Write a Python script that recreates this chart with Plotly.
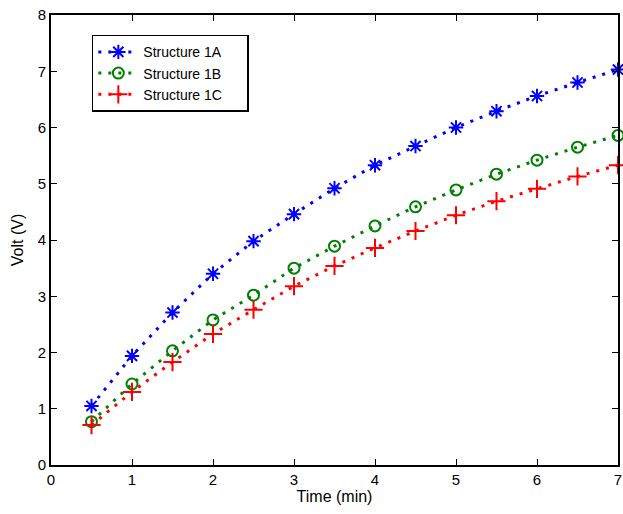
import plotly.graph_objects as go

time_min = [0.5, 1.0, 1.5, 2.0, 2.5, 3.0, 3.5, 4.0, 4.5, 5.0, 5.5, 6.0, 6.5, 7.0]
structure_1a = [1.05, 1.94, 2.71, 3.40, 3.98, 4.46, 4.92, 5.33, 5.67, 6.00, 6.29, 6.56, 6.80, 7.03]
structure_1b = [0.77, 1.44, 2.03, 2.58, 3.02, 3.50, 3.89, 4.25, 4.59, 4.89, 5.17, 5.42, 5.65, 5.86]
structure_1c = [0.71, 1.30, 1.83, 2.33, 2.76, 3.18, 3.54, 3.86, 4.16, 4.44, 4.69, 4.91, 5.13, 5.33]
series_names = ["Structure 1A", "Structure 1B", "Structure 1C"]

fig = go.Figure()
styles = [
    (structure_1a, "#0000ff", "asterisk-open", 12),
    (structure_1b, "#008000", "circle-open", 11),
    (structure_1c, "#ff0000", "cross-thin-open", 13),
]
for name, (vals, color, sym, size) in zip(series_names, styles):
    fig.add_trace(go.Scatter(
        x=time_min, y=vals, name=name + "\u00a0" * 5, mode="lines+markers",
        line=dict(color=color, width=3, dash="3px,7px"),
        marker=dict(symbol=sym, size=size, color=color,
                    line=dict(color=color, width=2)),
        cliponaxis=False,
    ))

font_family = "Liberation Sans, Arial, sans-serif"
axis_common = dict(
    showline=True, linecolor="black", linewidth=2, mirror="ticks",
    ticks="inside", ticklen=6, tickwidth=1, tickcolor="black",
    showgrid=False, zeroline=False, automargin=False,
    ticklabeloverflow="allow",
    tickfont=dict(family=font_family, size=15, color="black"),
    title_font=dict(family=font_family, size=16, color="black"),
)

fig.update_xaxes(range=[0, 7], dtick=1, title_text="Time (min)", title_standoff=3, **axis_common)
fig.update_yaxes(range=[0, 8], dtick=1, title_text="Volt (V)", title_standoff=10, **axis_common)

fig.update_layout(
    width=623, height=514,
    margin=dict(l=51, r=5, t=15, b=49),
    plot_bgcolor="white", paper_bgcolor="white",
    font=dict(family=font_family, color="black"),
    legend=dict(
        x=0.072, y=0.956, xanchor="left", yanchor="top",
        bgcolor="white", bordercolor="black", borderwidth=1.5,
        font=dict(size=14, color="black"),
        tracegroupgap=0, itemwidth=40,
    ),
)

fig.write_html(
    "out.html",
    config={"displayModeBar": False},
    post_script="document.body.style.margin='0';document.body.style.overflow='hidden';",
)
